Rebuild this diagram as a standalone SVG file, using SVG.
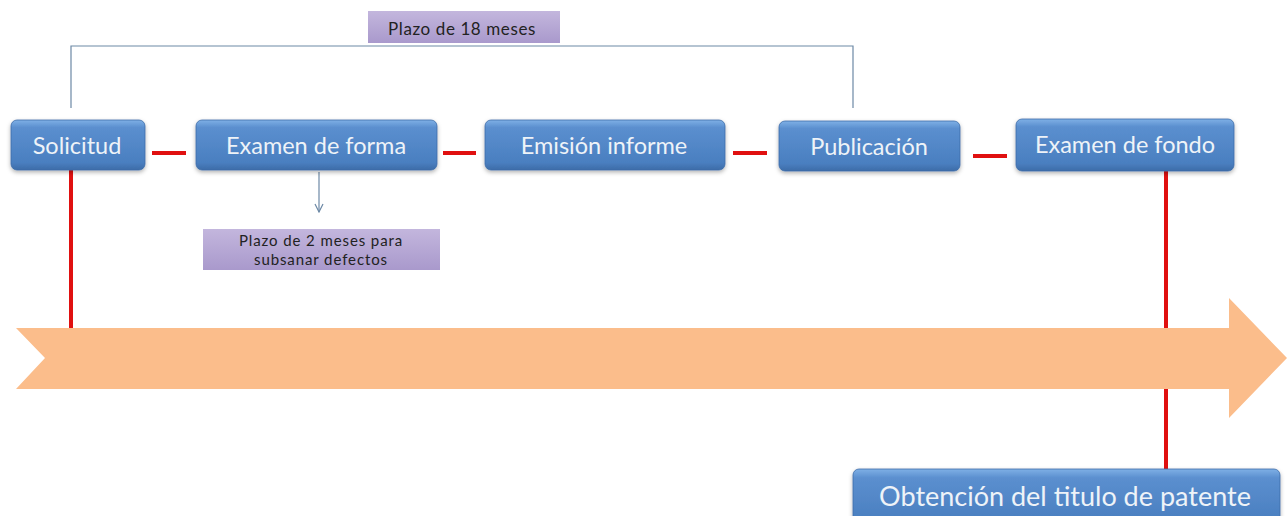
<svg xmlns="http://www.w3.org/2000/svg" width="1287" height="516" viewBox="0 0 1287 516">
<defs>
<linearGradient id="blue" x1="0" y1="0" x2="0" y2="1">
<stop offset="0" stop-color="#7fb0e6"/>
<stop offset="0.15" stop-color="#5b8fcf"/>
<stop offset="0.85" stop-color="#4a7fc0"/>
<stop offset="1" stop-color="#3d6ca8"/>
</linearGradient>
<linearGradient id="purple" x1="0" y1="0" x2="0" y2="1">
<stop offset="0" stop-color="#c3b6dd"/>
<stop offset="1" stop-color="#a999cc"/>
</linearGradient>
<filter id="sh" x="-10%" y="-20%" width="120%" height="150%">
<feDropShadow dx="0" dy="2" stdDeviation="2" flood-color="#000" flood-opacity="0.3"/>
</filter>
<marker id="ah" viewBox="0 0 10 10" refX="9" refY="5" markerWidth="10" markerHeight="10" orient="auto" markerUnits="userSpaceOnUse">
<path d="M1,1 L9,5 L1,9" fill="none" stroke="#6d89a6" stroke-width="1.2"/>
</marker>
</defs>
<style>
.box{fill:url(#blue);filter:url(#sh);stroke:#3d6ca8;stroke-width:0.8}
.bt{font-family:Lato,"Open Sans","Liberation Sans",sans-serif;fill:#eef3f8;text-anchor:middle;dominant-baseline:central;font-size:23.5px}
.lab{fill:url(#purple)}
.lt{font-family:Lato,"Open Sans","Liberation Sans",sans-serif;fill:#222;font-size:17px;letter-spacing:0.6px;text-anchor:middle;dominant-baseline:central}
.lt2{font-size:15px;letter-spacing:0.9px}
.red{stroke:#e01010;stroke-width:4;fill:none}
.thin{stroke:#6d89a6;stroke-width:1.2;fill:none}
</style>
<g id="timeline-arrow">
<path d="M16,328 L1229,328 L1229,298 L1287,358 L1229,418 L1229,389 L16,389 L45,358 Z" fill="#fbbd8b"/>
</g>
<g id="connectors">
<line class="red" x1="71" y1="170" x2="71" y2="328"/>
<line class="red" x1="1166" y1="171" x2="1166" y2="328"/>
<line class="red" x1="1166" y1="389" x2="1166" y2="469"/>
<line class="red" x1="152" y1="153" x2="186" y2="153"/>
<line class="red" x1="443" y1="153" x2="476" y2="153"/>
<line class="red" x1="733" y1="153" x2="767" y2="153"/>
<line class="red" x1="973" y1="156" x2="1007" y2="156"/>
<polyline class="thin" points="71,108 71,46 853,46 853,108"/>
<line class="thin" x1="319" y1="172" x2="319" y2="212" marker-end="url(#ah)"/>
</g>
<g id="label-18">
<rect class="lab" x="368" y="11" width="192" height="32"/>
<text class="lt" x="462" y="28">Plazo de 18 meses</text>
</g>
<g id="label-2">
<rect class="lab" x="203" y="229" width="237" height="41"/>
<text class="lt lt2" x="321" y="240">Plazo de 2 meses para</text>
<text class="lt lt2" x="321" y="259">subsanar defectos</text>
</g>
<g id="solicitud">
<rect class="box" x="11" y="120" width="134" height="50" rx="6"/>
<text class="bt" x="77" y="145">Solicitud</text>
</g>
<g id="examen-forma">
<rect class="box" x="196" y="120" width="241" height="50" rx="6"/>
<text class="bt" x="316" y="145">Examen de forma</text>
</g>
<g id="emision">
<rect class="box" x="485" y="120" width="240" height="50" rx="6"/>
<text class="bt" x="604" y="145">Emisión informe</text>
</g>
<g id="publicacion">
<rect class="box" x="779" y="121" width="181" height="50" rx="6"/>
<text class="bt" x="869" y="146">Publicación</text>
</g>
<g id="examen-fondo">
<rect class="box" x="1016" y="119" width="218" height="52" rx="6"/>
<text class="bt" x="1125" y="144">Examen de fondo</text>
</g>
<g id="obtencion">
<rect class="box" x="853" y="469" width="427" height="60" rx="6"/>
<text class="bt" x="1065" y="495" style="font-size:27px">Obtención del titulo de patente</text>
</g>
</svg>
